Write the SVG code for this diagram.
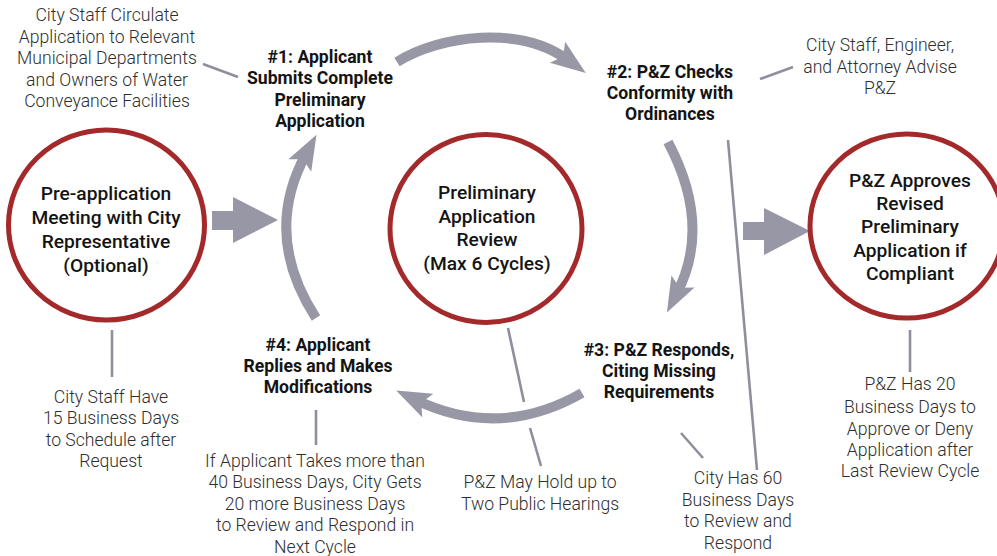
<svg xmlns="http://www.w3.org/2000/svg" width="997" height="556" viewBox="0 0 997 556">
  <style>
    .ring { fill: none; stroke: #a3292b; stroke-width: 5; }
    .flow { fill: none; stroke: #9897a6; stroke-width: 10; }
    .block { fill: #9897a6; }
    .lead { stroke: #8f8e9c; stroke-width: 2.6; fill: none; }
    .step { font-family: Roboto, "Liberation Sans", sans-serif; font-weight: 700; font-size: 17.6px; fill: #141414; text-anchor: middle; }
    .hub { font-family: Roboto, "Liberation Sans", sans-serif; font-weight: 500; font-size: 19.2px; fill: #141414; text-anchor: middle; }
    .note { font-family: Roboto, "Liberation Sans", sans-serif; font-weight: 300; font-size: 17.6px; fill: #2e2e2e; text-anchor: middle; }
  </style>
  <defs>
    <marker id="head" markerUnits="userSpaceOnUse" viewBox="-20 -20 50 40" refX="0" refY="0" markerWidth="50" markerHeight="40" orient="auto" overflow="visible">
      <polygon points="22,0 -13,-13 -6,0 -13,13" fill="#9897a6"/>
    </marker>
  </defs>

  <rect width="997" height="556" fill="#ffffff"/>

  <!-- connectors: cycle arrows, block arrows, leader lines -->
  <g id="connectors">
    <path class="flow" d="M397,62 C440,35 520,25 568,60" marker-end="url(#head)"/>
    <path class="flow" d="M668,142 Q712,225 677,293" marker-end="url(#head)"/>
    <path class="flow" d="M582,393 Q500,440 416,400" marker-end="url(#head)"/>
    <path class="flow" d="M316,318 Q262,235 306,154" marker-end="url(#head)"/>

    <polygon class="block" points="212,211 233,211 233,197 278,220 233,243 233,230 212,230"/>
    <polygon class="block" points="743,222 764,222 764,208 810,231 764,255 764,240 743,240"/>

    <line class="lead" x1="203" y1="64" x2="238" y2="77"/>
    <line class="lead" x1="760" y1="79" x2="793" y2="67"/>
    <line class="lead" x1="112" y1="330" x2="112" y2="377"/>
    <line class="lead" x1="316" y1="410" x2="316" y2="445"/>
    <line class="lead" x1="508" y1="328" x2="524" y2="402"/>
    <line class="lead" x1="530" y1="428" x2="541" y2="466"/>
    <line class="lead" x1="728" y1="140" x2="757" y2="470"/>
    <line class="lead" x1="681" y1="433" x2="703" y2="458"/>
    <line class="lead" x1="910" y1="330" x2="910" y2="372"/>
  </g>

  <g id="pre-application">
    <ellipse class="ring" cx="106.5" cy="225" rx="98" ry="95"/>
    <text class="hub"><tspan x="106" y="200">Pre-application</tspan><tspan x="106" y="224">Meeting with City</tspan><tspan x="106" y="248">Representative</tspan><tspan x="106" y="272">(Optional)</tspan></text>
  </g>

  <g id="review">
    <ellipse class="ring" cx="486" cy="228.5" rx="96" ry="94"/>
    <text class="hub"><tspan x="487" y="199">Preliminary</tspan><tspan x="487" y="223">Application</tspan><tspan x="487" y="246">Review</tspan><tspan x="487" y="270">(Max 6 Cycles)</tspan></text>
  </g>

  <g id="approval">
    <ellipse class="ring" cx="907" cy="226" rx="97" ry="92"/>
    <text class="hub"><tspan x="910" y="187">P&amp;Z Approves</tspan><tspan x="910" y="210">Revised</tspan><tspan x="910" y="233">Preliminary</tspan><tspan x="910" y="257">Application if</tspan><tspan x="910" y="280">Compliant</tspan></text>
  </g>

  <g id="step1">
    <text class="step"><tspan x="320" y="63">#1: Applicant</tspan><tspan x="320" y="84">Submits Complete</tspan><tspan x="320" y="106">Preliminary</tspan><tspan x="320" y="127">Application</tspan></text>
  </g>

  <g id="step2">
    <text class="step"><tspan x="670" y="78">#2: P&amp;Z Checks</tspan><tspan x="670" y="99">Conformity with</tspan><tspan x="670" y="120">Ordinances</tspan></text>
  </g>

  <g id="step3">
    <text class="step"><tspan x="659" y="356">#3: P&amp;Z Responds,</tspan><tspan x="659" y="377">Citing Missing</tspan><tspan x="659" y="398">Requirements</tspan></text>
  </g>

  <g id="step4">
    <text class="step"><tspan x="318" y="351">#4: Applicant</tspan><tspan x="318" y="372">Replies and Makes</tspan><tspan x="318" y="393">Modifications</tspan></text>
  </g>

  <g id="note-circulate">
    <text class="note"><tspan x="107" y="21">City Staff Circulate</tspan><tspan x="107" y="43">Application to Relevant</tspan><tspan x="107" y="64">Municipal Departments</tspan><tspan x="107" y="86">and Owners of Water</tspan><tspan x="107" y="107">Conveyance Facilities</tspan></text>
  </g>

  <g id="note-advise">
    <text class="note"><tspan x="880" y="51">City Staff, Engineer,</tspan><tspan x="880" y="73">and Attorney Advise</tspan><tspan x="880" y="94">P&amp;Z</tspan></text>
  </g>

  <g id="note-schedule">
    <text class="note"><tspan x="111" y="403">City Staff Have</tspan><tspan x="111" y="424">15 Business Days</tspan><tspan x="111" y="446">to Schedule after</tspan><tspan x="111" y="467">Request</tspan></text>
  </g>

  <g id="note-extension">
    <text class="note"><tspan x="315" y="467">If Applicant Takes more than</tspan><tspan x="315" y="488">40 Business Days, City Gets</tspan><tspan x="315" y="510">20 more Business Days</tspan><tspan x="315" y="531">to Review and Respond in</tspan><tspan x="315" y="553">Next Cycle</tspan></text>
  </g>

  <g id="note-hearings">
    <text class="note"><tspan x="540" y="488">P&amp;Z May Hold up to</tspan><tspan x="540" y="510">Two Public Hearings</tspan></text>
  </g>

  <g id="note-sixty">
    <text class="note"><tspan x="738" y="484">City Has 60</tspan><tspan x="738" y="506">Business Days</tspan><tspan x="738" y="527">to Review and</tspan><tspan x="738" y="549">Respond</tspan></text>
  </g>

  <g id="note-twenty">
    <text class="note"><tspan x="910" y="390">P&amp;Z Has 20</tspan><tspan x="910" y="413">Business Days to</tspan><tspan x="910" y="435">Approve or Deny</tspan><tspan x="910" y="456">Application after</tspan><tspan x="910" y="477">Last Review Cycle</tspan></text>
  </g>
</svg>
